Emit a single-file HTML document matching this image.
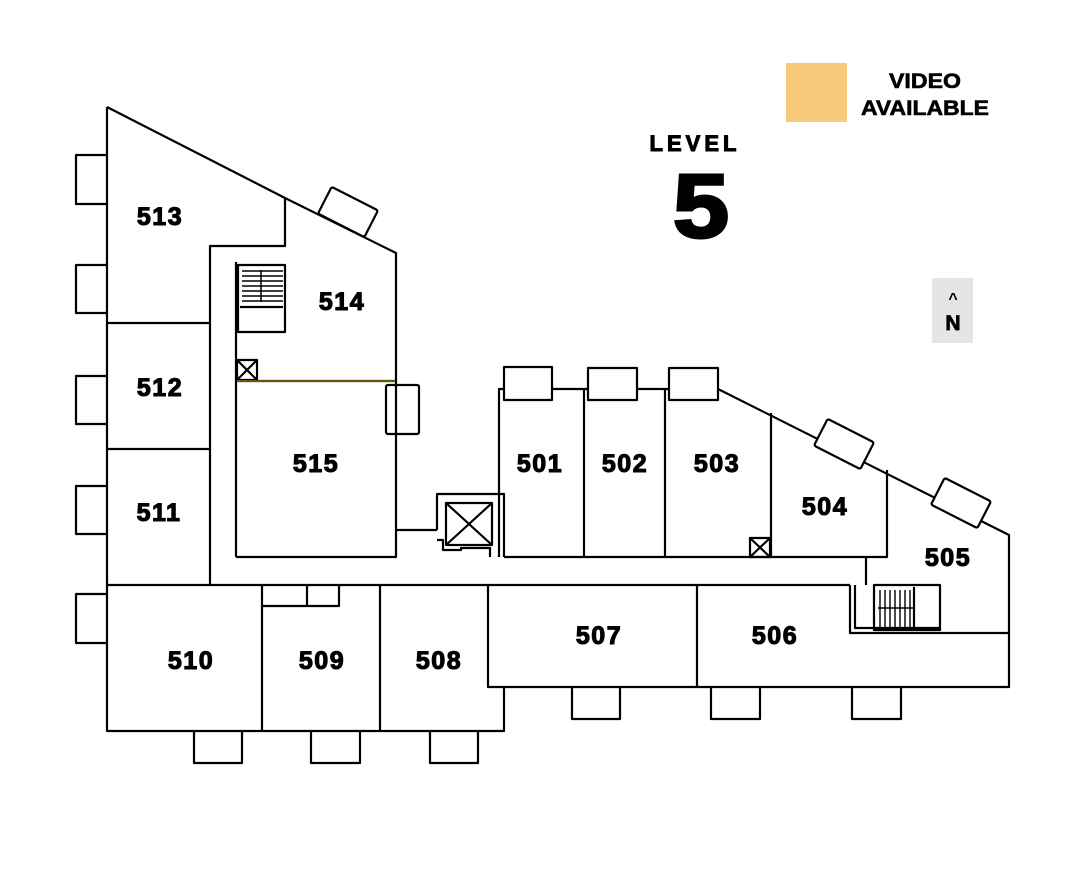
<!DOCTYPE html>
<html><head><meta charset="utf-8"><style>
html,body{margin:0;padding:0;background:#fff;}
svg{display:block;}
text{font-family:"Liberation Sans",sans-serif;font-weight:bold;}
</style></head><body>
<svg width="1087" height="870" viewBox="0 0 1087 870" xmlns="http://www.w3.org/2000/svg">
<rect width="1087" height="870" fill="#fff"/>
<rect x="786" y="63" width="61" height="59" fill="#f7ca7a"/>
<g stroke="#000" stroke-width="0.6">
<text x="925" y="88" font-size="21" text-anchor="middle" textLength="72" lengthAdjust="spacingAndGlyphs">VIDEO</text>
<text x="925" y="115" font-size="21" text-anchor="middle" textLength="128" lengthAdjust="spacingAndGlyphs">AVAILABLE</text>
<text x="695" y="151" font-size="22" text-anchor="middle" letter-spacing="4" stroke-width="1">LEVEL</text>
<text x="701" y="237" font-size="90" text-anchor="middle" stroke-width="3" textLength="56" lengthAdjust="spacingAndGlyphs">5</text>
</g>
<rect x="932" y="278" width="41" height="65" fill="#e5e5e5"/>
<text x="953" y="304" font-size="16" text-anchor="middle">^</text>
<text x="953" y="330" font-size="21" text-anchor="middle" stroke="#000" stroke-width="0.8">N</text>

<g fill="none" stroke="#000" stroke-width="2.2" stroke-linejoin="round">
<path d="M107,107 L285,198 M107,107 L107,731 L504,731 L504,687"/>
<path d="M285,198 L396,253 L396,381"/>
<path d="M285,198 L285,246 L210,246 L210,585"/>
<path d="M107,323 L210,323 M107,449 L210,449"/>
<path d="M107,585 L850,585"/>
<path d="M236,557 L236,262"/>
<rect x="238" y="265" width="47" height="67"/>
<line x1="240" y1="307" x2="283" y2="307"/>
<g stroke-width="1.5">
<line x1="242" y1="271" x2="283" y2="271"/><line x1="242" y1="276" x2="283" y2="276"/><line x1="242" y1="281" x2="283" y2="281"/><line x1="242" y1="286" x2="283" y2="286"/><line x1="242" y1="291" x2="283" y2="291"/><line x1="242" y1="296" x2="283" y2="296"/><line x1="242" y1="301" x2="283" y2="301"/>
<line x1="261" y1="270" x2="261" y2="302"/>
</g>
<rect x="237" y="360" width="20" height="20"/><path d="M237,360 L257,380 M257,360 L237,380"/>
<path d="M236,381 L396,381 L396,557 L236,557"/>
<rect x="386" y="385" width="33" height="49" rx="2"/>
<path d="M396,530 L437,530"/>
<path d="M437,530 L437,494 L504,494 L504,557 M490,557 L490,548 L461,548 L461,550 L443,550 L443,540 L437,540"/>
<rect x="446" y="503" width="46" height="42"/><path d="M446,503 L492,545 M492,503 L446,545"/>
<path d="M499,557 L499,389 L718,389 L1009,535 L1009,687 L488,687 L488,585"/>
<path d="M504,557 L887,557 L887,470"/>
<path d="M584,389 L584,557 M665,389 L665,557 M771,413 L771,557"/>
<rect x="750" y="538" width="20" height="19"/><path d="M750,538 L770,557 M770,538 L750,557"/>
<path d="M866,557 L866,585"/>
<path d="M697,585 L697,687"/>
<path d="M850,585 L850,633 L1009,633"/>
<path d="M855,585 L855,628 L940,628"/>
<rect x="874" y="585" width="66" height="45"/>
<g stroke-width="1.4">
<line x1="880" y1="590" x2="880" y2="630"/><line x1="885" y1="590" x2="885" y2="630"/><line x1="890" y1="590" x2="890" y2="630"/><line x1="895" y1="590" x2="895" y2="630"/><line x1="900" y1="590" x2="900" y2="630"/><line x1="905" y1="590" x2="905" y2="630"/><line x1="910" y1="590" x2="910" y2="630"/>
<line x1="878" y1="608" x2="914" y2="608"/>
</g>
<line x1="914" y1="587" x2="914" y2="630"/>
<path d="M262,585 L262,731 M380,585 L380,731"/>
<path d="M262,606 L339,606 L339,585 M307,585 L307,606"/>
<path d="M107,155 L76,155 L76,204 L107,204"/>
<path d="M107,265 L76,265 L76,313 L107,313"/>
<path d="M107,376 L76,376 L76,424 L107,424"/>
<path d="M107,486 L76,486 L76,534 L107,534"/>
<path d="M107,594 L76,594 L76,643 L107,643"/>
<path d="M194,731 L194,763 L242,763 L242,731"/>
<path d="M311,731 L311,763 L360,763 L360,731"/>
<path d="M430,731 L430,763 L478,763 L478,731"/>
<path d="M572,687 L572,719 L620,719 L620,687"/>
<path d="M711,687 L711,719 L760,719 L760,687"/>
<path d="M852,687 L852,719 L901,719 L901,687"/>
<rect x="504" y="367" width="48" height="33" fill="#fff"/>
<rect x="588" y="368" width="49" height="32" fill="#fff"/>
<rect x="669" y="368" width="49" height="32" fill="#fff"/>
<rect x="-26" y="-15" width="52" height="30" rx="2" fill="#fff" transform="translate(348,212) rotate(27)"/>
<rect x="-26" y="-15" width="52" height="30" rx="2" fill="#fff" transform="translate(844,444) rotate(27)"/>
<rect x="-26" y="-15" width="52" height="30" rx="2" fill="#fff" transform="translate(961,503) rotate(27)"/>
</g>
<path d="M237,381 L395,381" stroke="#a09000" stroke-width="1.2"/>
<g font-size="25" text-anchor="middle" stroke="#000" stroke-width="1.1" letter-spacing="1.5">
<text x="160" y="225">513</text>
<text x="342" y="310">514</text>
<text x="160" y="396">512</text>
<text x="316" y="472">515</text>
<text x="159" y="521">511</text>
<text x="540" y="472">501</text>
<text x="625" y="472">502</text>
<text x="717" y="472">503</text>
<text x="825" y="515">504</text>
<text x="948" y="566">505</text>
<text x="599" y="644">507</text>
<text x="775" y="644">506</text>
<text x="191" y="669">510</text>
<text x="322" y="669">509</text>
<text x="439" y="669">508</text>
</g>
</svg>
</body></html>
